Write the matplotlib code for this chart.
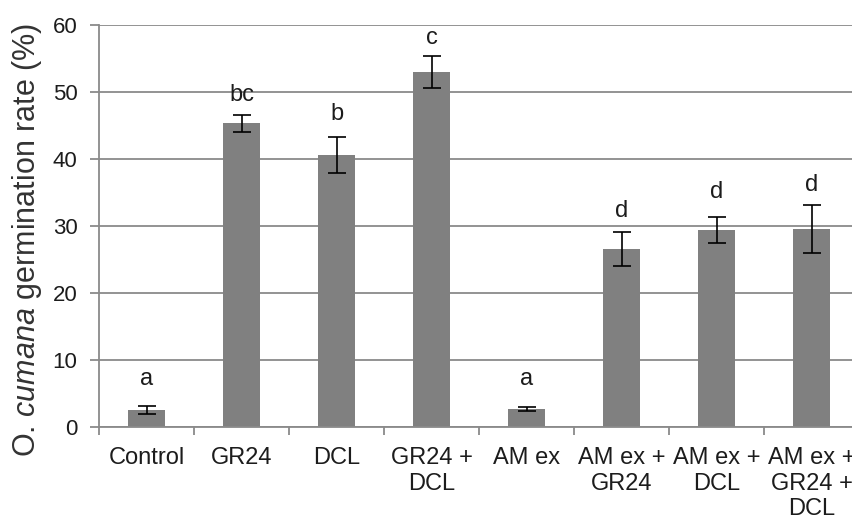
import matplotlib
matplotlib.use("Agg")
import matplotlib.pyplot as plt
import numpy as np

plt.rcParams.update({
    "font.family": ["Liberation Sans", "DejaVu Sans"],
    "mathtext.fontset": "custom",
    "mathtext.rm": "Liberation Sans",
    "mathtext.it": "Liberation Sans:italic",
})

# data
categories = ["Control", "GR24", "DCL", "GR24 +\nDCL", "AM ex",
              "AM ex +\nGR24", "AM ex +\nDCL", "AM ex +\nGR24 +\nDCL"]
germination = [2.5, 45.3, 40.6, 53.0, 2.7, 26.6, 29.4, 29.6]
error = [0.6, 1.2, 2.65, 2.4, 0.35, 2.5, 2.0, 3.6]
letters = ["a", "bc", "b", "c", "a", "d", "d", "d"]
letter_base = [6.3, 48.6, 45.8, 57.2, 6.3, 31.4, 34.2, 35.2]
y_ticks = [0, 10, 20, 30, 40, 50, 60]

GRID = "#8a8a8a"
BAR = "#808080"
INK = "#1c1c1c"

fig = plt.figure(figsize=(8.52, 5.22), dpi=100)
ax = fig.add_axes([99 / 852, 95 / 522, 760 / 852, 402 / 522])

x = np.arange(len(categories))
ax.bar(x, germination, width=0.39, color=BAR, zorder=2)
ax.errorbar(x, germination, yerr=error, fmt="none", ecolor="black",
            elinewidth=1.2, capsize=6.5, capthick=1.2, zorder=3)

for xi, txt, yb in zip(x, letters, letter_base):
    ax.text(xi, yb, txt, ha="center", va="baseline", fontsize=17, color=INK)

ax.set_xlim(-0.5, len(categories) - 0.5)
ax.set_ylim(0, 60)
ax.set_yticks(y_ticks)
ax.grid(axis="y", color=GRID, linewidth=1.3, zorder=0)
ax.set_axisbelow(True)

for s in ("top", "right"):
    ax.spines[s].set_visible(False)
for s in ("left", "bottom"):
    ax.spines[s].set_color(GRID)
    ax.spines[s].set_linewidth(1.3)

# category labels centred, tick marks on the category boundaries
ax.set_xticks(x)
ax.set_xticklabels(categories, fontsize=17, color=INK)
ax.tick_params(axis="x", which="major", length=0, pad=14.5)
ax.set_xticks(np.arange(len(categories) + 1) - 0.5, minor=True)
ax.tick_params(axis="x", which="minor", length=5.5, width=1.3, color=GRID)
ax.tick_params(axis="y", length=6.5, width=1.3, color=GRID, pad=9,
               labelsize=16, labelcolor=INK)

ax.set_ylabel(r"O. $\it{cumana}$ germination rate (%)", fontsize=22, color="#333333")
ax.yaxis.set_label_coords(-0.072, 0.465)

fig.savefig("out.png", dpi=100)
